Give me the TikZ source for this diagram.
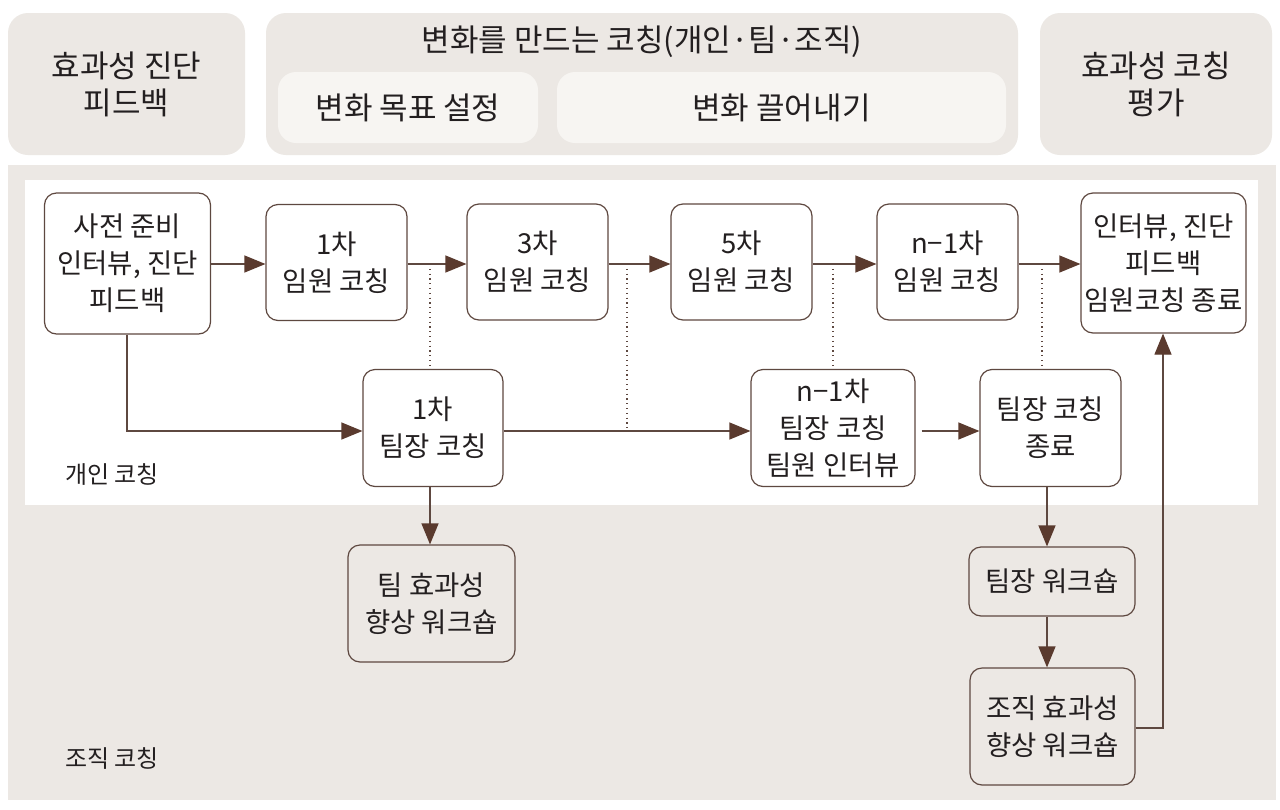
\documentclass[tikz,border=0pt]{standalone}
\usepackage{fontspec}
\setmainfont{Noto Sans CJK KR}
\usetikzlibrary{arrows.meta}
\definecolor{bgray}{HTML}{ECE8E4}
\definecolor{lgray}{HTML}{F7F5F2}
\definecolor{brn}{HTML}{5E4840}
\definecolor{arr}{HTML}{5A3A2E}
\definecolor{txt}{HTML}{231F20}
\begin{document}
\begin{tikzpicture}[x=1pt,y=-1pt,
  box/.style={draw=brn, line width=1.2pt, rounded corners=12pt, fill=white, align=center,
    font=\fontsize{27.5}{37}\selectfont, inner sep=0pt, text=txt},
  gbox/.style={box, fill=bgray},
  head/.style={fill=bgray, rounded corners=20pt, align=center, inner sep=0pt,
    font=\fontsize{31}{37}\selectfont, text=txt},
  sub/.style={fill=lgray, rounded corners=18pt, align=center, inner sep=0pt,
    font=\fontsize{31}{37}\selectfont, text=txt},
  lbl/.style={font=\fontsize{24}{26}\selectfont, text=txt, anchor=west, inner sep=0pt},
  conn/.style={draw=brn, line width=1.2pt, -{Triangle[length=21pt,width=17pt,fill=arr,color=arr]}},
  dots/.style={draw=brn, line width=1.2pt, dash pattern=on 1.2pt off 3.6pt}
]
\useasboundingbox (0,0) rectangle (1280,809);
\fill[white] (0,0) rectangle (1280,809);
% header
\node[head, minimum width=237pt, minimum height=142pt] (h1) at (126.5,84) {효과성 진단\\피드백};
\node[head, minimum width=752pt, minimum height=142pt] (h2) at (642,84) {};
\node[font=\fontsize{31}{37}\selectfont, text=txt, inner sep=0pt] (h2t) at (642,42) {변화를 만드는 코칭(개인·팀·조직)};
\node[sub, minimum width=260pt, minimum height=71pt] (s1) at (408,107.5) {변화 목표 설정};
\node[sub, minimum width=449pt, minimum height=71pt] (s2) at (781.5,107.5) {변화 끌어내기};
\node[head, minimum width=232pt, minimum height=142pt] (h3) at (1156,84) {효과성 코칭\\평가};
% regions
\fill[bgray] (8,165) rectangle (1276,800);
\fill[white] (25,180) rectangle (1258,505);
\node[lbl] (l1) at (65,475) {개인 코칭};
\node[lbl] (l2) at (65,759) {조직 코칭};
% nodes
\node[box, minimum width=166pt, minimum height=141pt] (A) at (127.5,263.5) {사전 준비\\인터뷰, 진단\\피드백};
\node[box, minimum width=141pt, minimum height=116pt] (B) at (336.5,262.5) {1차\\임원 코칭};
\node[box, minimum width=141pt, minimum height=116pt] (C) at (537.5,262) {3차\\임원 코칭};
\node[box, minimum width=141pt, minimum height=116pt] (D) at (741.5,262) {5차\\임원 코칭};
\node[box, minimum width=141pt, minimum height=116pt] (E) at (947.5,262) {n−1차\\임원 코칭};
\node[box, minimum width=165pt, minimum height=140pt] (F) at (1163.5,263) {인터뷰, 진단\\피드백\\임원코칭 종료};
\node[box, minimum width=140pt, minimum height=117pt] (G) at (433,428) {1차\\팀장 코칭};
\node[box, minimum width=164pt, minimum height=117pt] (H) at (833,428) {n−1차\\팀장 코칭\\팀원 인터뷰};
\node[box, minimum width=141pt, minimum height=117pt] (I) at (1050.5,428) {팀장 코칭\\종료};
\node[gbox, minimum width=167pt, minimum height=117pt] (J) at (431.5,603.5) {팀 효과성\\향상 워크숍};
\node[gbox, minimum width=166pt, minimum height=69pt] (K) at (1052,581.5) {팀장 워크숍};
\node[gbox, minimum width=165pt, minimum height=117pt] (L) at (1052.5,726.5) {조직 효과성\\향상 워크숍};
% junction coordinates
\coordinate (dB) at (430,264);
\coordinate (dC) at (627,264);
\coordinate (dD) at (833,264);
\coordinate (dE) at (1042,264);
\coordinate (gh) at (627,431);
\coordinate (aturn) at (127,431);
\coordinate (lturn) at (1163,728);
% connectors
\draw[conn] (A.east |- dB) -- (B.west |- dB);
\draw[conn] (B.east |- dB) -- (C.west |- dB);
\draw[conn] (C.east |- dB) -- (D.west |- dB);
\draw[conn] (D.east |- dB) -- (E.west |- dB);
\draw[conn] (E.east |- dB) -- (F.west |- dB);
\draw[dots] (dB) -- (dB |- G.north);
\draw[dots] (dC) -- (gh);
\draw[dots] (dD) -- (dD |- H.north);
\draw[dots] (dE) -- (dE |- I.north);
\draw[conn] (A.south -| aturn) -- (aturn) -- (G.west |- aturn);
\draw[conn] (G.east |- aturn) -- (H.west |- aturn);
\draw[conn, shorten <=6pt] (H.east |- aturn) -- (I.west |- aturn);
\draw[conn] (G.south -| dB) -- (J.north -| dB);
\draw[conn] (I.south -| 1047,0) -- (K.north -| 1047,0);
\draw[conn] (K.south -| 1047,0) -- (L.north -| 1047,0);
\draw[conn] (L.east |- lturn) -- (lturn) -- (F.south -| lturn);
\end{tikzpicture}
\end{document}
